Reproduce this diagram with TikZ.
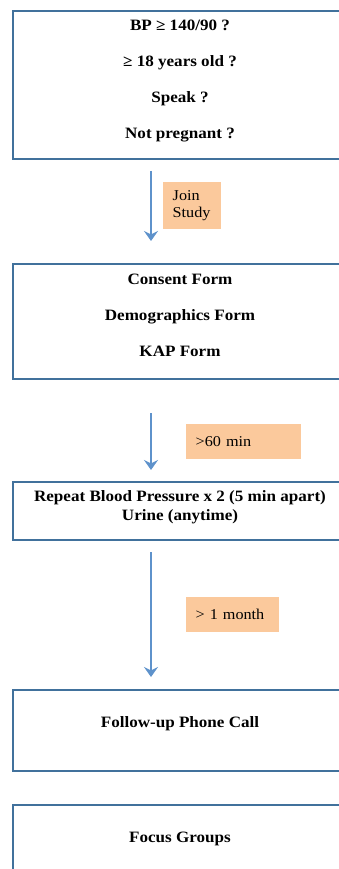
\documentclass[tikz,border=0pt]{standalone}
\usepackage{fontspec}
\setmainfont{Liberation Serif}[FakeStretch=1.08]
\usetikzlibrary{arrows.meta}

\definecolor{boxblue}{HTML}{41719C}
\definecolor{arrowblue}{HTML}{5E92CB}
\definecolor{tagpeach}{HTML}{FBC99C}

\tikzset{
  formbox/.style={draw=boxblue,line width=2.2pt,anchor=north west,
    minimum width=336pt,inner sep=0pt},
  boxtext/.style={font=\bfseries\fontsize{15.8}{36}\selectfont,align=center,inner sep=0pt},
  tag/.style={fill=tagpeach,anchor=north west,align=left,inner xsep=9.5pt,
    inner ysep=0pt,font=\fontsize{15}{17}\selectfont},
  flow/.style={draw=arrowblue,line width=2.8pt,
    -{Stealth[length=10pt,width=14pt,inset=3.5pt]}}
}

\begin{document}
\begin{tikzpicture}[x=1pt,y=-1pt]
  \useasboundingbox (0,0) rectangle (339,869);
  \clip (0,0) rectangle (339,869);

  % the five steps
  \node[formbox,minimum height=148pt] (screen) at (12,10) {};
  \node[formbox,minimum height=115pt] (forms) at (12,263) {};
  \node[formbox,minimum height=58pt] (repeat) at (12,481) {};
  \node[formbox,minimum height=81pt] (phone) at (12,689) {};
  \node[formbox,minimum height=81pt] (focus) at (12,804) {};

  \node[boxtext] (screentext) at (180,81)
    {BP ≥ 140/90 ?\\≥ 18 years old ?\\Speak ?\\Not pregnant ?};
  \node[boxtext] (formstext) at (180,315)
    {Consent Form\\Demographics Form\\KAP Form};
  \node[boxtext,font=\bfseries\fontsize{15.8}{19}\selectfont] (repeattext) at (180,507)
    {Repeat Blood Pressure x 2 (5 min apart)\\Urine (anytime)};
  \node[boxtext] (phonetext) at (180,724) {Follow-up Phone Call};
  \node[boxtext] (focustext) at (180,839) {Focus Groups};

  % arrows between steps
  \coordinate (a1) at (151,171);
  \coordinate (b1) at (151,241);
  \coordinate (a2) at (151,413);
  \coordinate (b2) at (151,470);
  \coordinate (a3) at (151,552);
  \coordinate (b3) at (151,677);
  \draw[flow] (a1) -- (b1);
  \draw[flow] (a2) -- (b2);
  \draw[flow] (a3) -- (b3);

  % time notes
  \node[tag,text width=39pt,minimum height=47pt] (join) at (163,182) {Join\\Study};
  \node[tag,text width=96pt,minimum height=35pt] (wait) at (186,424) {>60 min};
  \node[tag,text width=74pt,minimum height=35pt] (month) at (186,597) {> 1 month};
\end{tikzpicture}
\end{document}
